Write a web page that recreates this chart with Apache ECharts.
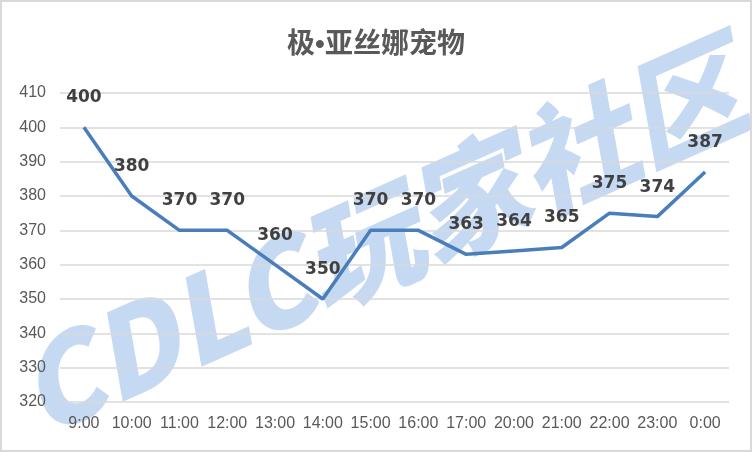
<!DOCTYPE html>
<html><head><meta charset="utf-8">
<script src="https://cdn.jsdelivr.net/npm/echarts@6/dist/echarts.min.js"></script>
<style>html,body{margin:0;padding:0;background:#fff}#c{width:752px;height:452px;box-sizing:border-box;border:2px solid #d9d9d9}</style>
</head><body><div id="c"></div>
<script>
const categories = ['9:00','10:00','11:00','12:00','13:00','14:00','15:00','16:00','17:00','20:00','21:00','22:00','23:00','0:00'];
const values = [400,380,370,370,360,350,370,370,363,364,365,375,374,387];
const titleText = '极•亚丝娜宠物';
const watermark = 'CDLC玩家社区';

const chart = echarts.init(document.getElementById('c'));
chart.setOption({
  animation: false,
  backgroundColor: '#fff',
  title: { text: titleText, left: 'center', top: 24,
    textStyle: { fontFamily: 'Liberation Sans, Noto Sans CJK SC', fontSize: 28, fontWeight: 'bold', color: '#595959' } },
  graphic: [{
    type: 'text', z: -10,
    rotation: 0.42,
    x: 378, y: 236,
    style: { text: watermark, fontSize: 118, fontWeight: 900, fontStyle: 'italic',
      fontFamily: 'Noto Sans CJK SC', fill: '#c6d9f3', textAlign: 'center', textVerticalAlign: 'middle' }
  }],
  grid: { left: 58, right: 21, top: 91, bottom: 48 },
  xAxis: {
    type: 'category', data: categories, boundaryGap: true,
    axisLine: { show: false }, axisTick: { show: false },
    axisLabel: { color: '#595959', fontSize: 16, fontFamily: 'Liberation Sans', margin: 14, interval: 0 }
  },
  yAxis: {
    type: 'value', min: 320, max: 410, interval: 10,
    axisLine: { show: false }, axisTick: { show: false },
    axisLabel: { color: '#595959', fontSize: 16, fontFamily: 'Liberation Sans', margin: 14 },
    splitLine: { lineStyle: { color: '#d9d9d9', width: 1.5 } }
  },
  series: [{
    type: 'line', data: values, symbol: 'circle', symbolSize: 2, showSymbol: true, z: 5,
    itemStyle: { color: 'rgba(74,126,187,0)' },
    lineStyle: { color: '#4a7ebb', width: 3.5 },
    label: { show: true, position: 'top', distance: 20, color: '#404040', opacity: 1,
      fontSize: 17, fontWeight: 'bold', fontFamily: 'DejaVu Sans' }
  }]
});
</script></body></html>
